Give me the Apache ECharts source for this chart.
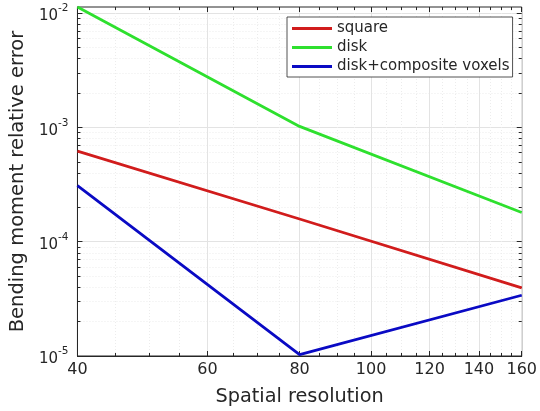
<!DOCTYPE html>
<html>
<head>
<meta charset="utf-8">
<script src="https://cdn.jsdelivr.net/npm/echarts@6/dist/echarts.min.js"></script>
<style>html,body{margin:0;padding:0;background:#fff}#c{width:540px;height:411px}</style>
</head>
<body>
<div id="c"></div>
<script>
var resolution = [40, 80, 160];
var square = [6.2e-4, 1.58e-4, 3.95e-5];
var disk = [1.13e-2, 1.02e-3, 1.8e-4];
var diskComposite = [3.1e-4, 1.03e-5, 3.4e-5];
var xMajorTicks = [40, 60, 80, 100, 120, 140, 160];
var xMinorTicks = [45, 50, 55, 65, 70, 75, 85, 90, 95, 105, 110, 115, 125, 130, 135, 145, 150, 155];
var yMajorTicks = [1e-5, 1e-4, 1e-3, 1e-2];
var yMinorTicks = [2e-5,3e-5,4e-5,5e-5,6e-5,7e-5,8e-5,9e-5,2e-4,3e-4,4e-4,5e-4,6e-4,7e-4,8e-4,9e-4,2e-3,3e-3,4e-3,5e-3,6e-3,7e-3,8e-3,9e-3];

function pairs(xs, ys){ return xs.map(function(x,i){return [x, ys[i]];}); }
var FONT = 'DejaVu Sans';
var TXT = '#262626';
var xMin = 40, xMax = 160, yMin = 1e-5, yMax = 0.0113;

function xAx(opts){
  return Object.assign({type:'log', logBase:10, min:xMin, max:xMax, axisLine:{show:false}, axisLabel:{show:false}, axisTick:{show:false}, splitLine:{show:false}}, opts);
}
function yAx(opts){
  return Object.assign({type:'log', logBase:10, min:yMin, max:yMax, axisLine:{show:false}, axisLabel:{show:false}, axisTick:{show:false}, splitLine:{show:false}}, opts);
}

var option = {
  backgroundColor:'#fff',
  animation:false,
  grid:{left:77, right:17, top:7, bottom:55, show:true, borderColor:'#262626', borderWidth:1, backgroundColor:'#fff'},
  xAxis:[
    xAx({position:'bottom', name:'Spatial resolution', nameLocation:'middle', nameGap:31,
      nameTextStyle:{fontFamily:FONT, fontSize:19.3, color:TXT},
      axisLine:{show:true, lineStyle:{color:'#262626'}},
      axisTick:{show:true, inside:true, length:5, customValues:xMajorTicks, lineStyle:{color:'#262626'}},
      axisLabel:{show:true, customValues:xMajorTicks, fontFamily:FONT, fontSize:16, color:TXT, margin:6, showMinLabel:true, showMaxLabel:true, formatter:function(v){return String(Math.round(v));}},
      splitLine:{show:true, lineStyle:{color:'#e3e3e3', width:1}}
    }),
    xAx({position:'bottom',
      axisTick:{show:true, inside:true, length:3, customValues:xMinorTicks, lineStyle:{color:'#262626'}},
      splitLine:{show:true, lineStyle:{color:'#ececec', width:1, type:[1,2]}}
    }),
    xAx({position:'top',
      axisTick:{show:true, inside:true, length:5, customValues:xMajorTicks, lineStyle:{color:'#262626'}}
    }),
    xAx({position:'top',
      axisTick:{show:true, inside:true, length:3, customValues:xMinorTicks, lineStyle:{color:'#262626'}}
    })
  ],
  yAxis:[
    yAx({position:'left', name:'Bending moment relative error', nameLocation:'middle', nameGap:46,
      nameTextStyle:{fontFamily:FONT, fontSize:19.5, color:TXT},
      axisLine:{show:true, lineStyle:{color:'#262626'}},
      axisTick:{show:true, inside:true, length:5, customValues:yMajorTicks, lineStyle:{color:'#262626'}},
      axisLabel:{show:true, customValues:yMajorTicks, margin:9, formatter:function(v){
          var e = Math.round(Math.log10(v));
          return '{b|10}{s|' + e + '}';
        },
        rich:{b:{fontFamily:FONT, fontSize:15, color:TXT, verticalAlign:'bottom', padding:[7,0,0,0]}, s:{fontFamily:FONT, fontSize:10.5, color:TXT, verticalAlign:'top', padding:[1,0,0,0]}}
      },
      splitLine:{show:true, lineStyle:{color:'#e3e3e3', width:1}}
    }),
    yAx({position:'left',
      axisTick:{show:true, inside:true, length:3, customValues:yMinorTicks, lineStyle:{color:'#262626'}},
      splitLine:{show:true, lineStyle:{color:'#ececec', width:1, type:[1,2]}}
    }),
    yAx({position:'right',
      axisTick:{show:true, inside:true, length:5, customValues:yMajorTicks, lineStyle:{color:'#262626'}}
    }),
    yAx({position:'right',
      axisTick:{show:true, inside:true, length:3, customValues:yMinorTicks, lineStyle:{color:'#262626'}}
    })
  ],
  legend:{
    orient:'vertical', left:287, top:17, itemWidth:40, itemHeight:3, itemGap:4,
    padding:[4,3,3,5], backgroundColor:'#fff', borderColor:'#262626', borderWidth:0.8,
    textStyle:{fontFamily:FONT, fontSize:15, color:TXT},
    icon:'rect',
    data:['square','disk','disk+composite voxels']
  },
  series:[
    {name:'square', type:'line', data:pairs(resolution, square), showSymbol:false, symbol:'none', lineStyle:{width:2.8, color:'#d11c1c'}, itemStyle:{color:'#d11c1c'}},
    {name:'disk', type:'line', data:pairs(resolution, disk), showSymbol:false, symbol:'none', lineStyle:{width:2.8, color:'#2ee02e'}, itemStyle:{color:'#2ee02e'}},
    {name:'disk+composite voxels', type:'line', data:pairs(resolution, diskComposite), showSymbol:false, symbol:'none', lineStyle:{width:2.8, color:'#0a0ac4'}, itemStyle:{color:'#0a0ac4'}}
  ]
};
var chart = echarts.init(document.getElementById('c'), null, {renderer:'canvas'});
chart.setOption(option);
</script>
</body>
</html>
